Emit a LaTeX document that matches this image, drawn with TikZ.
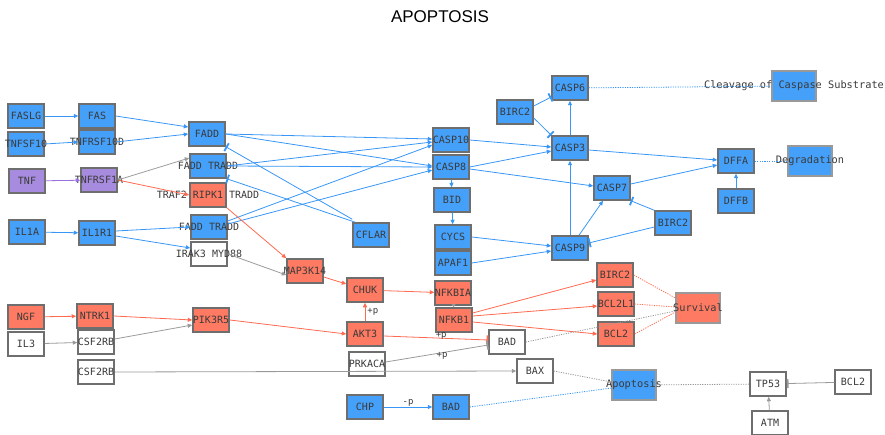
\documentclass[tikz,border=0pt]{standalone}
\usepackage{fontspec}
\setmainfont{Liberation Sans}
\newfontfamily\genefont{DejaVu Sans Mono}
\usetikzlibrary{arrows.meta}
\definecolor{geneblue}{HTML}{45A0FA}
\definecolor{genered}{HTML}{FF7A62}
\definecolor{genepurple}{HTML}{A78BDE}
\definecolor{edgeblue}{HTML}{3896F6}
\definecolor{edgered}{HTML}{FF6A50}
\definecolor{edgegrey}{HTML}{9A9A9A}
\definecolor{edgepurple}{HTML}{9A6FE0}
\definecolor{boxgrey}{HTML}{6E6E6E}
\definecolor{txtgrey}{HTML}{3A3A3A}
% label that may run past its box
\newcommand{\gl}[1]{\makebox[0pt]{#1}}

\begin{document}
\begin{tikzpicture}[
  x=1pt, y=-1pt,
  gene/.style={draw=boxgrey, line width=1.5pt, minimum width=36pt,
               minimum height=24pt, inner sep=0pt, font=\genefont\fontsize{10}{12}\selectfont,
               text=txtgrey},
  bgene/.style={gene, fill=geneblue},
  rgene/.style={gene, fill=genered},
  pgene/.style={gene, fill=genepurple},
  wgene/.style={gene, fill=white},
  pheno/.style={draw=black!40, line width=1.2pt, minimum width=44pt,
                minimum height=30pt, inner sep=0pt,
                font=\genefont\fontsize{10.3}{12}\selectfont, text=txtgrey},
  act/.style={-{Triangle[length=4.5pt,width=4pt]}, line width=0.8pt},
  inh/.style={-{Bar[width=9pt,line width=1.8pt]}, line width=0.8pt},
  lnk/.style={line width=0.8pt, dash pattern=on 1.2pt off 1.2pt},
  plab/.style={font=\genefont\fontsize{9}{10}\selectfont, text=txtgrey, inner sep=1pt}
]
\useasboundingbox (0,0) rectangle (885,435);
\node[font=\fontsize{17}{20}\selectfont] (title) at (440,17) {APOPTOSIS};
% ---------------- ligands and receptors ----------------
\node[bgene] (faslg) at (26,116) {\gl{FASLG}};
\node[bgene] (fas) at (97,116) {\gl{FAS}};
\node[bgene] (tnfsf) at (26,144) {\gl{TNFSF10}};
\node[bgene] (tnfrsfd) at (97,142) {\gl{TNFRSF10D}};
\node[pgene] (tnf) at (27,181) {\gl{TNF}};
\node[pgene] (tnfr) at (99,180) {\gl{TNFRSF1A}};
\node[bgene] (il1a) at (27,232) {\gl{IL1A}};
\node[bgene] (il1r) at (97,233) {\gl{IL1R1}};
\node[rgene] (ngf) at (26,317) {\gl{NGF}};
\node[wgene] (il3) at (26,344) {\gl{IL3}};
\node[rgene] (ntrk) at (95,316) {\gl{NTRK1}};
\node[wgene] (csfa) at (96,342) {\gl{CSF2RB}};
\node[wgene] (csfb) at (96,372) {\gl{CSF2RB}};
% ---------------- adaptors and kinases ----------------
\node[bgene] (fadd) at (207,134) {\gl{FADD}};
\node[bgene] (fta) at (208,166) {\gl{FADD TRADD}};
\node[rgene] (ripk) at (208,195) {\gl{TRAF2 RIPK1 TRADD}};
\node[bgene] (ftb) at (209,227) {\gl{FADD TRADD}};
\node[wgene] (irak) at (209,254) {\gl{IRAK3 MYD88}};
\node[rgene] (pik) at (211,320) {\gl{PIK3R5}};
\node[rgene] (map) at (305,271) {\gl{MAP3K14}};
\node[bgene] (cflar) at (371,235) {\gl{CFLAR}};
\node[rgene] (chuk) at (365,290) {\gl{CHUK}};
\node[rgene] (akt) at (365,334) {\gl{AKT3}};
\node[wgene] (prkaca) at (367,364) {\gl{PRKACA}};
\node[bgene] (chp) at (365,407) {\gl{CHP}};
% ---------------- caspases and targets ----------------
\node[bgene] (casp10) at (451,140) {\gl{CASP10}};
\node[bgene] (casp8) at (451,167) {\gl{CASP8}};
\node[bgene] (bid) at (452,200) {\gl{BID}};
\node[bgene] (cycs) at (453,237) {\gl{CYCS}};
\node[bgene] (apaf) at (453,263) {\gl{APAF1}};
\node[rgene] (nfkbia) at (453,293) {\gl{NFKBIA}};
\node[rgene] (nfkb) at (454,320) {\gl{NFKB1}};
\node[wgene] (bada) at (507,342) {\gl{BAD}};
\node[wgene] (bax) at (535,371) {\gl{BAX}};
\node[bgene] (badb) at (451,407) {\gl{BAD}};
\node[bgene] (birca) at (515,112) {\gl{BIRC2}};
\node[bgene] (casp6) at (570,88) {\gl{CASP6}};
\node[bgene] (casp3) at (570,148) {\gl{CASP3}};
\node[bgene] (casp9) at (570,248) {\gl{CASP9}};
\node[bgene] (casp7) at (612,188) {\gl{CASP7}};
\node[bgene] (bircb) at (673,223) {\gl{BIRC2}};
\node[bgene] (dffa) at (736,161) {\gl{DFFA}};
\node[bgene] (dffb) at (736,201) {\gl{DFFB}};
\node[rgene] (bircc) at (615,275) {\gl{BIRC2}};
\node[rgene] (bcl2l1) at (616,304) {\gl{BCL2L1}};
\node[rgene] (bcla) at (616,334) {\gl{BCL2}};
\node[wgene] (tp53) at (768,384) {\gl{TP53}};
\node[wgene] (bclb) at (853,382) {\gl{BCL2}};
\node[wgene] (atm) at (770,423) {\gl{ATM}};
% ---------------- outcomes ----------------
\node[pheno, fill=geneblue] (cleave) at (794,86) {\gl{Cleavage of Caspase Substrate}};
\node[pheno, fill=geneblue] (degr) at (810,161) {\gl{Degradation}};
\node[pheno, fill=genered] (surv) at (698,308) {\gl{Survival}};
\node[pheno, fill=geneblue] (apop) at (634,385) {\gl{Apoptosis}};
% ---------------- blue edges ----------------
\begin{scope}[edgeblue]
  \draw[act] (faslg) -- (fas);
  \draw[act] (tnfsf.east) -- (tnfrsfd.west);
  \draw[act] (il1a) -- (il1r);
  \draw[act] (fas.east) -- ([yshift=7pt]fadd.west);
  \draw[act] (tnfrsfd.east) -- (fadd.west);
  \draw[act] ([yshift=2pt]il1r.east) -- (ftb.west);
  \draw[act] ([yshift=-3pt]il1r.east) -- ([yshift=6pt]irak.west);
  \draw[act] (fadd.east) -- ([yshift=1pt]casp10.west);
  \draw[act] (fadd.east) -- ([yshift=1pt]casp8.west);
  \draw[act] (fta.east) -- ([yshift=-2pt]casp10.west);
  \draw[act] (fta.east) -- (casp8.west);
  \draw[act] ([yshift=6pt]ftb.east) -- ([yshift=-5pt]casp10.west);
  \draw[act] ([yshift=3pt]ftb.east) -- ([yshift=-3pt]casp8.west);
  \draw[inh] ([yshift=3pt]cflar.north west) -- (fadd.south east);
  \draw[inh] ([xshift=3pt]cflar.north west) -- (fta.south east);
  \draw[act] (casp10.east) -- ([yshift=1pt]casp3.west);
  \draw[act] (casp8.east) -- ([yshift=-3pt]casp3.west);
  \draw[act] ([yshift=-2pt]casp8.east) -- ([yshift=2pt]casp7.west);
  \draw[act] (casp8) -- (bid);
  \draw[act] (bid) -- (cycs);
  \draw[act] (cycs.east) -- ([yshift=2pt]casp9.west);
  \draw[act] (apaf.east) -- ([yshift=-3pt]casp9.west);
  \draw[inh] ([yshift=6pt]birca.east) -- ([yshift=-9pt]casp6.west);
  \draw[inh] ([yshift=-6pt]birca.east) -- (casp3.north west);
  \draw[act] (casp3) -- (casp6);
  \draw[act] (casp9) -- (casp3);
  \draw[act] ([xshift=9pt]casp9.north) -- ([xshift=-9pt]casp7.south);
  \draw[inh] (bircb.north west) -- (casp7.south east);
  \draw[inh] ([yshift=-4pt]bircb.west) -- ([yshift=5pt]casp9.east);
  \draw[act] ([yshift=-2pt]casp3.east) -- ([yshift=1pt]dffa.west);
  \draw[act] ([yshift=4pt]casp7.east) -- ([yshift=-4pt]dffa.west);
  \draw[act] (dffb) -- (dffa);
  \draw[lnk] (casp6) -- (cleave);
  \draw[lnk] (dffa) -- (degr);
  \draw[act] (chp) -- node[plab, above=-1pt] {-p} (badb);
  \draw[lnk] (badb.east) -- ([yshift=-3pt]apop.west);
\end{scope}
% ---------------- red edges ----------------
\begin{scope}[edgered]
  \draw[act] (tnfr.east) -- (ripk.west);
  \draw[act] (ripk.south east) -- (map.north west);
  \draw[act] ([yshift=-6pt]map.east) -- ([yshift=6pt]chuk.west);
  \draw[act] (chuk) -- (nfkbia);
  \draw[act] (ngf) -- (ntrk);
  \draw[act] (ntrk.east) -- (pik.west);
  \draw[act] (pik.east) -- (akt.west);
  \draw[act] (akt) -- node[plab, right=1pt] {+p} (chuk);
  \draw[inh] ([yshift=-2pt]akt.east) -- node[plab, pos=0.55, above=-3pt] {+p} ([yshift=2pt]bada.west);
  \draw[act] ([yshift=7pt]nfkb.east) -- ([yshift=-5pt]bircc.west);
  \draw[act] ([yshift=4pt]nfkb.east) -- ([yshift=-2pt]bcl2l1.west);
  \draw[act] ([yshift=-2pt]nfkb.east) -- (bcla.west);
  \draw[lnk] (bircc.east) -- ([yshift=10pt]surv.west);
  \draw[lnk] (bcl2l1.east) -- ([yshift=1pt]surv.west);
  \draw[lnk] (bcla.east) -- ([yshift=-4pt]surv.west);
\end{scope}
% ---------------- grey and purple edges ----------------
\draw[act, edgepurple] (tnf) -- (tnfr);
\begin{scope}[edgegrey]
  \draw[act] (tnfr.east) -- ([yshift=8pt]fta.west);
  \draw[act] (irak.east) -- ([yshift=-4pt]map.west);
  \draw[act] (il3) -- (csfa);
  \draw[act] ([yshift=3pt]csfa.east) -- ([yshift=-5pt]pik.west);
  \draw[act] (csfb.east) -- (bax.west);
  \draw[inh] ([yshift=2pt]prkaca.east) -- node[plab, pos=0.55, below=-2pt] {+p} ([yshift=-3pt]bada.west);
  \draw[-{Triangle[length=3pt,width=4pt]}, line width=0.8pt] (nfkbia) -- (nfkb);
  \draw[lnk] (bada.east) -- ([yshift=-3pt]surv.west);
  \draw[lnk] (bax.east) -- ([yshift=3pt]apop.west);
  \draw[lnk] (apop) -- (tp53);
  \draw[inh] (bclb) -- (tp53);
  \draw[act] (atm) -- (tp53);
\end{scope}
\end{tikzpicture}
\end{document}
